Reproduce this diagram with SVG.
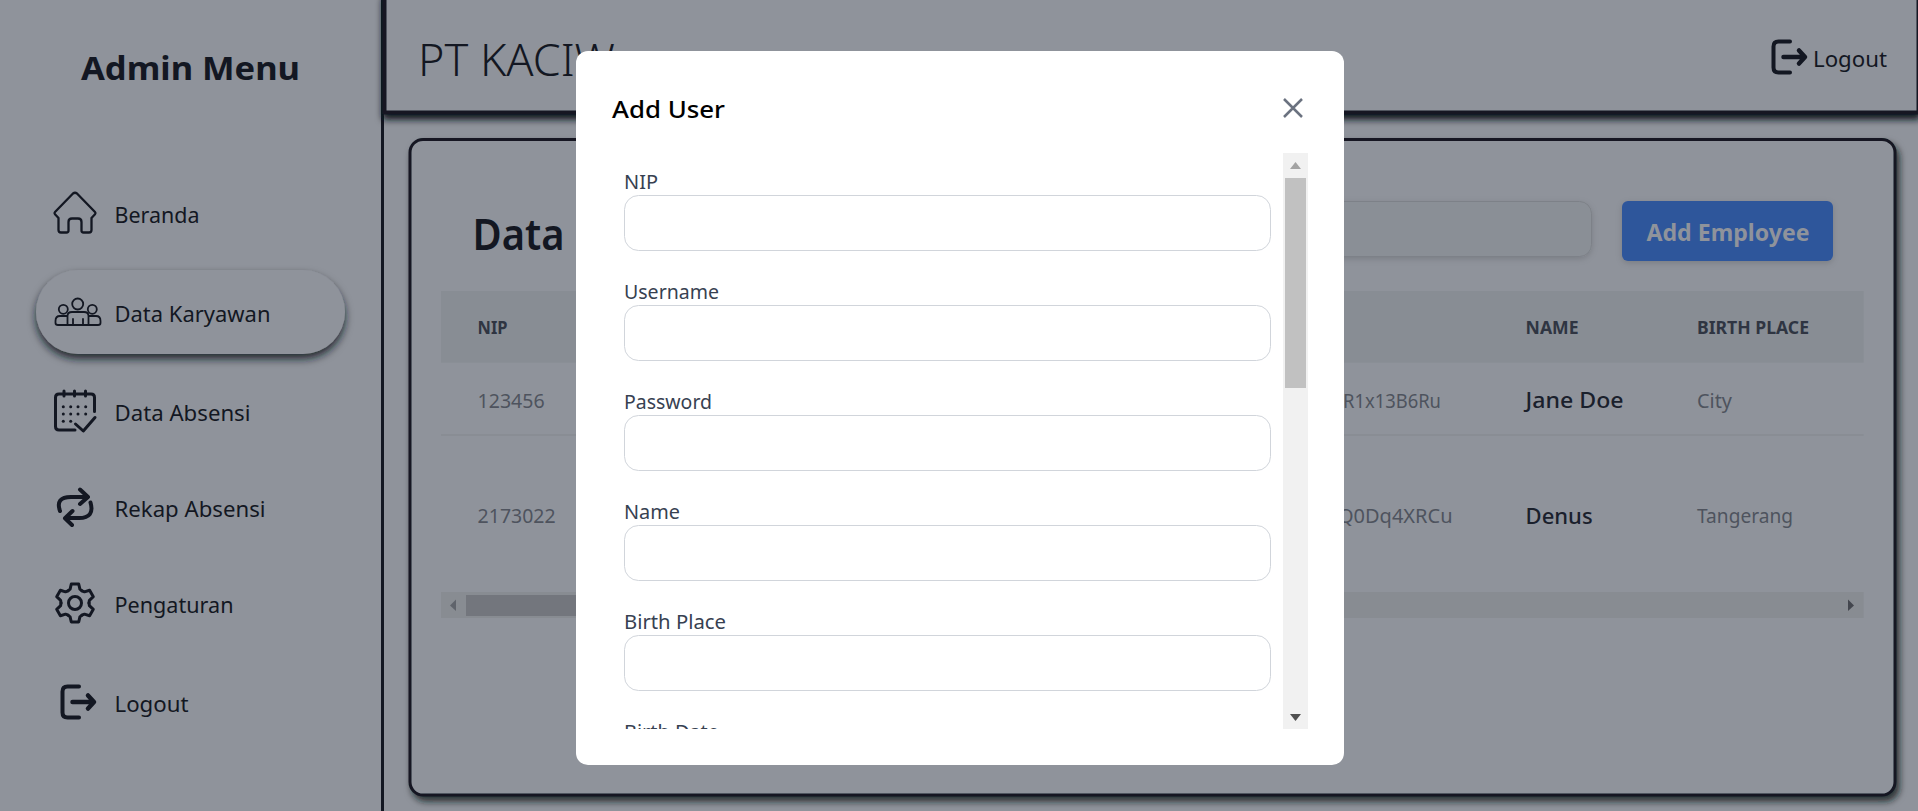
<svg xmlns="http://www.w3.org/2000/svg" width="1918" height="811" viewBox="0 0 1918 811">
<style>
text{font-family:"Noto Sans","Open Sans","Liberation Sans",sans-serif;fill:#131722}
.nav{font-size:22px}
.th{font-size:18px;font-weight:700;fill:#2f3542}
.td{font-size:20px;fill:#4e535e}
.nm{font-size:22px;font-weight:500;fill:#1a202c}
.lb{font-size:20px;fill:#374151}
.inp{fill:#fff;stroke:#d1d5db;stroke-width:1}
.ic{fill:none;stroke:#131722;stroke-width:3;stroke-linecap:round;stroke-linejoin:round}
.ic2{fill:none;stroke:#131722;stroke-width:2.300;stroke-linecap:round;stroke-linejoin:round}
.ic4{fill:none;stroke:#131722;stroke-width:4;stroke-linecap:round;stroke-linejoin:round}
.dot{fill:#131722}
</style>
<defs>
<filter id="sh" x="-10%" y="-30%" width="120%" height="170%"><feDropShadow dx="0" dy="5" stdDeviation="3.500" flood-color="#0f131c" flood-opacity="1"/></filter>
<filter id="sh1" x="-10%" y="-30%" width="120%" height="170%"><feDropShadow dx="0" dy="5" stdDeviation="4" flood-color="#0f131c" flood-opacity="0.85"/></filter>
<filter id="sh2" x="-5%" y="-5%" width="110%" height="112%"><feDropShadow dx="3" dy="5" stdDeviation="3.500" flood-color="#0f131c" flood-opacity="0.8"/></filter>
<filter id="sh3" x="-10%" y="-20%" width="120%" height="150%"><feDropShadow dx="0" dy="2" stdDeviation="3" flood-color="#0f131c" flood-opacity="0.15"/></filter>
<clipPath id="form"><rect x="610" y="153" width="680" height="576"/></clipPath>
<g id="logoutIcon"><path class="ic4" d="M19 2.500H7.500Q2.500 2.500 2.500 7.500V28.500Q2.500 33.500 7.500 33.500H19"/><path class="ic4" stroke-width="4.500" d="M12.500 18H33M28 11.500L34 18L28 24.500" style="stroke-width:4.500"/></g>
<path id="tooth" d="M-7 -12.100L-4.900 -13.800L-3.700 -19H3.700L4.900 -13.800L7 -12.100"/>
</defs>
<rect width="1918" height="811" fill="#8f939b"/>
<g id="sidebar">
<rect x="381" y="0" width="3" height="811" fill="#131722"/>
<text x="81" y="80" font-size="33" font-weight="700" textLength="219" lengthAdjust="spacingAndGlyphs">Admin Menu</text>
<g id="nav-beranda"><path class="ic2" d="M58.500 218L55 214.300Q54 213 55 212L73 193.500Q75 192 77 193.500L95 212Q96 213 95 214.300L91.500 218V230Q91.500 232.500 89 232.500H83.500Q81.500 232.500 81.500 230.500V222Q81.500 218.500 78 218.500H72Q68.500 218.500 68.500 222V230.500Q68.500 232.500 66.500 232.500H61Q58.500 232.500 58.500 230Z"/><text class="nav" x="114.500" y="222.600" textLength="85" lengthAdjust="spacingAndGlyphs">Beranda</text></g>
<g id="nav-karyawan"><rect x="36" y="270" width="309" height="84" rx="42" fill="#8f939b" filter="url(#sh1)"/>
<g class="ic2" style="stroke-width:1.800"><circle cx="77.700" cy="304" r="5.500"/><circle cx="63.300" cy="309.300" r="4.500"/><circle cx="92.300" cy="309.300" r="4.500"/><path d="M67 316H60Q55.500 316 55.500 321V323Q55.500 325 58 325H98Q100.500 325 100.500 323V321Q100.500 316 96 316H89M67.500 325V316Q67.500 312 72 312H84Q88.500 312 88.500 316V325M73 319V325M83 319V325"/></g>
<text class="nav" x="114.500" y="321.700" textLength="156" lengthAdjust="spacingAndGlyphs">Data Karyawan</text></g>
<g id="nav-absensi"><path class="ic" d="M75 430H59Q55.500 430 55.500 426.500V397.500Q55.500 394 59 394H91Q94.500 394 94.500 397.500V411.500M64 391V396M74.500 391V396M85.500 391V396M75.500 424L83.300 431L95 417.500"/>
<g class="dot"><circle cx="63.300" cy="406.700" r="1.500"/><circle cx="70.700" cy="406.700" r="1.500"/><circle cx="78" cy="406.700" r="1.500"/><circle cx="85.700" cy="406.700" r="1.500"/><circle cx="63.300" cy="414" r="1.500"/><circle cx="70.700" cy="414" r="1.500"/><circle cx="78" cy="414" r="1.500"/><circle cx="85.700" cy="414" r="1.500"/><circle cx="63.300" cy="421.300" r="1.500"/><circle cx="70.700" cy="421.300" r="1.500"/></g>
<text class="nav" x="114.500" y="421" textLength="136" lengthAdjust="spacingAndGlyphs">Data Absensi</text></g>
<g id="nav-rekap"><path class="ic4" d="M60 511Q55 497 71 497H87M80 489.500L88 497L80 504M90.500 502.500Q95 518 79 518H66M72.500 511L65 518.300L72 525"/><text class="nav" x="114.500" y="516.700" textLength="151" lengthAdjust="spacingAndGlyphs">Rekap Absensi</text></g>
<g id="nav-pengaturan"><circle class="ic" cx="75" cy="603" r="6.500"/><g class="ic" transform="translate(75 603)"><use href="#tooth"/><use href="#tooth" transform="rotate(60)"/><use href="#tooth" transform="rotate(120)"/><use href="#tooth" transform="rotate(180)"/><use href="#tooth" transform="rotate(240)"/><use href="#tooth" transform="rotate(300)"/></g><text class="nav" x="114.500" y="612.700" textLength="119" lengthAdjust="spacingAndGlyphs">Pengaturan</text></g>
<g id="nav-logout"><use href="#logoutIcon" x="60" y="684"/><text class="nav" x="114.500" y="711.700" textLength="74" lengthAdjust="spacingAndGlyphs">Logout</text></g>
</g>
<g id="header">
<rect x="384.500" y="-5" width="1534" height="117.500" fill="#8f939b" stroke="#131722" stroke-width="4" filter="url(#sh)"/>
<text x="418" y="76" font-size="44" font-weight="300" textLength="197" lengthAdjust="spacingAndGlyphs">PT KACIW</text>
<use href="#logoutIcon" x="1771" y="39"/>
<text x="1813" y="66.700" font-size="22" textLength="74" lengthAdjust="spacingAndGlyphs">Logout</text>
</g>
<g id="card">
<rect x="410" y="139.500" width="1485" height="655.500" rx="13" fill="#8f939b" stroke="#131722" stroke-width="3" filter="url(#sh2)"/>
<text x="472.500" y="250" font-size="44" font-weight="600" textLength="92" lengthAdjust="spacingAndGlyphs">Data</text>
<rect x="1300" y="201.500" width="291.500" height="55" rx="12" fill="#8a8f96" stroke="#7d8188" filter="url(#sh3)"/>
<g id="add-employee"><rect x="1622" y="201" width="211" height="60" rx="6" fill="#2f569b" filter="url(#sh3)"/><text x="1646.500" y="240.600" font-size="24" font-weight="700" style="fill:#8f939b" textLength="163" lengthAdjust="spacingAndGlyphs">Add Employee</text></g>
<rect x="441" y="291" width="1422.600" height="71.700" fill="#888d94"/>
<text class="th" x="477.600" y="334" textLength="30" lengthAdjust="spacingAndGlyphs">NIP</text>
<text class="th" x="1525.600" y="334" textLength="53" lengthAdjust="spacingAndGlyphs">NAME</text>
<text class="th" x="1697" y="334" textLength="112" lengthAdjust="spacingAndGlyphs">BIRTH PLACE</text>
<text class="td" x="477.600" y="408" textLength="67" lengthAdjust="spacingAndGlyphs">123456</text>
<text class="td" x="1343" y="408" textLength="98" lengthAdjust="spacingAndGlyphs">R1x13B6Ru</text>
<text class="nm" x="1525.600" y="408" textLength="98" lengthAdjust="spacingAndGlyphs">Jane Doe</text>
<text class="td" x="1697" y="408" textLength="35" lengthAdjust="spacingAndGlyphs">City</text>
<rect x="441" y="434.500" width="1422.600" height="1" fill="#83878e"/>
<text class="td" x="477.600" y="523" textLength="78" lengthAdjust="spacingAndGlyphs">2173022</text>
<text class="td" x="1452.500" y="523" text-anchor="end">Q0Dq4XRCu</text>
<text class="nm" x="1525.600" y="524" textLength="67" lengthAdjust="spacingAndGlyphs">Denus</text>
<text class="td" x="1697" y="523" textLength="96" lengthAdjust="spacingAndGlyphs">Tangerang</text>
<rect x="441" y="592" width="1422.600" height="26" fill="#888c92"/>
<rect x="466" y="595" width="300" height="21" fill="#73767d"/>
<path d="M456 599.500V611L450 605.500Z" fill="#5f636b"/>
<path d="M1848 599.500V611L1854 605.500Z" fill="#43464e"/>
</g>
<g id="modal">
<rect x="576" y="51" width="768" height="714" rx="12" fill="#fff"/>
<text x="612" y="118" font-size="24" font-weight="500" style="fill:#000" textLength="113" lengthAdjust="spacingAndGlyphs">Add User</text>
<path d="M1284 99L1302 117M1302 99L1284 117" fill="none" stroke="#6b7280" stroke-width="2.500"/>
<g clip-path="url(#form)">
<text class="lb" x="624" y="188.500" textLength="34" lengthAdjust="spacingAndGlyphs">NIP</text>
<rect class="inp" x="624.500" y="195.500" width="646" height="55" rx="14"/>
<text class="lb" x="624" y="298.500" textLength="95" lengthAdjust="spacingAndGlyphs">Username</text>
<rect class="inp" x="624.500" y="305.500" width="646" height="55" rx="14"/>
<text class="lb" x="624" y="408.500" textLength="88" lengthAdjust="spacingAndGlyphs">Password</text>
<rect class="inp" x="624.500" y="415.500" width="646" height="55" rx="14"/>
<text class="lb" x="624" y="518.500" textLength="56" lengthAdjust="spacingAndGlyphs">Name</text>
<rect class="inp" x="624.500" y="525.500" width="646" height="55" rx="14"/>
<text class="lb" x="624" y="628.500" textLength="102" lengthAdjust="spacingAndGlyphs">Birth Place</text>
<rect class="inp" x="624.500" y="635.500" width="646" height="55" rx="14"/>
<text class="lb" x="624" y="738.500" textLength="95" lengthAdjust="spacingAndGlyphs">Birth Date</text>
</g>
<rect x="1283" y="153" width="25" height="576" fill="#f1f1f1"/>
<rect x="1285" y="178" width="21" height="210" fill="#c1c1c1"/>
<path d="M1295.500 162L1301 169H1290Z" fill="#a3a3a3"/>
<path d="M1295.500 721L1301 714H1290Z" fill="#505050"/>
</g>
</svg>
